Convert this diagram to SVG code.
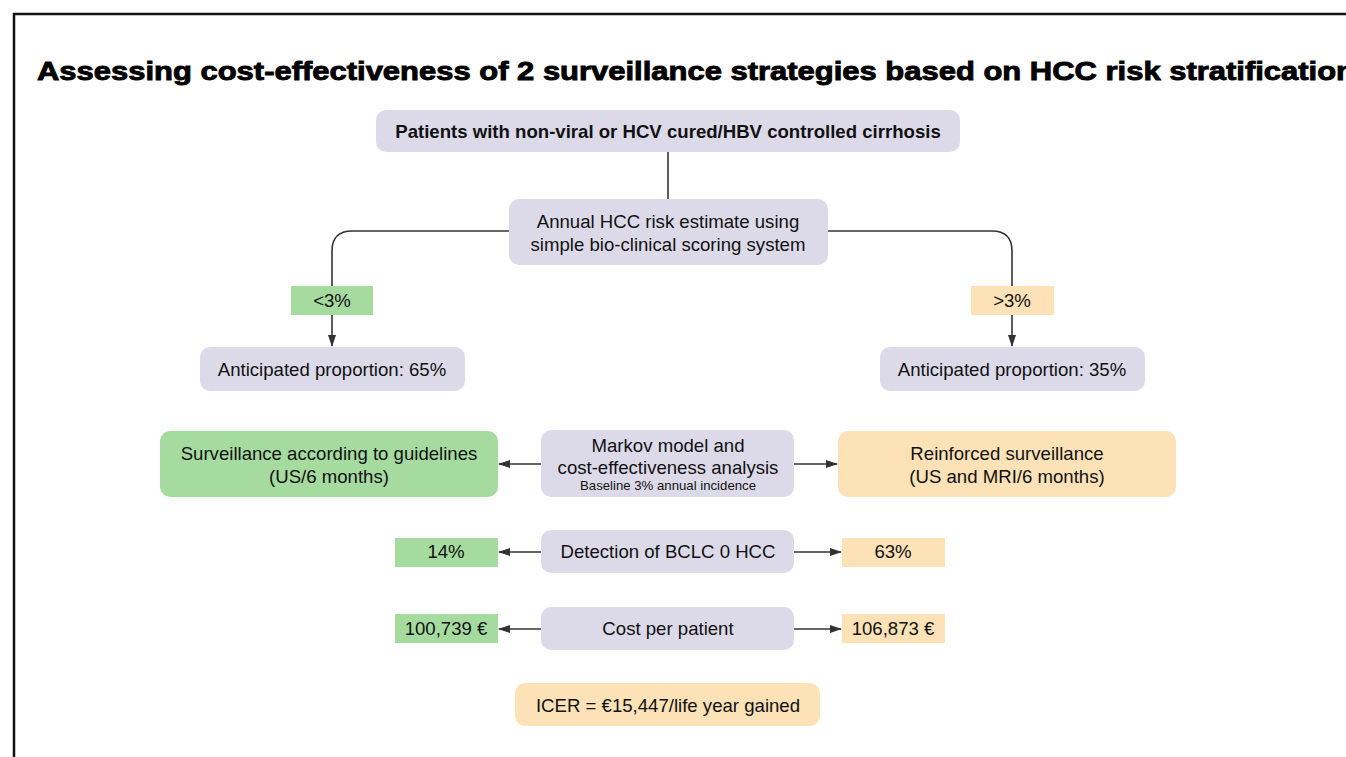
<svg xmlns="http://www.w3.org/2000/svg" width="1346" height="757" viewBox="0 0 1346 757">
<style>
.t{font-family:"Liberation Sans",Arial,sans-serif;font-size:18.6px;fill:#111;text-anchor:middle}
.b{font-weight:bold}
.s{font-size:13.2px}
.lav{fill:#dcdae9}
.grn{fill:#a6dba0}
.org{fill:#fde1b7}
.c{fill:none;stroke:#333;stroke-width:1.6}
</style>
<defs>
<marker id="ah" markerWidth="12" markerHeight="8" refX="11" refY="4" orient="auto" markerUnits="userSpaceOnUse">
<path d="M0,0 L12,4 L0,8 Z" fill="#333"/>
</marker>
</defs>
<rect width="1346" height="757" fill="#fff"/>
<path d="M14,757 V14 H1346" fill="none" stroke="#111" stroke-width="2.5"/>
<text x="37" y="80" font-family="Liberation Sans,Arial,sans-serif" font-weight="bold" font-size="26" fill="#000" stroke="#000" stroke-width="0.9" textLength="1318" lengthAdjust="spacingAndGlyphs">Assessing cost-effectiveness of 2 surveillance strategies based on HCC risk stratification</text>
<g id="connectors">
<path class="c" d="M668,152 V199"/>
<path class="c" d="M509,231 H352 Q332,231 332,251 V346" marker-end="url(#ah)"/>
<path class="c" d="M828,231 H992 Q1012,231 1012,251 V346" marker-end="url(#ah)"/>
<path class="c" d="M541,464 H499" marker-end="url(#ah)"/>
<path class="c" d="M794,464 H837" marker-end="url(#ah)"/>
<path class="c" d="M541,552 H499" marker-end="url(#ah)"/>
<path class="c" d="M794,552 H841" marker-end="url(#ah)"/>
<path class="c" d="M541,629 H499" marker-end="url(#ah)"/>
<path class="c" d="M794,629 H841" marker-end="url(#ah)"/>
</g>
<g id="patients"><rect class="lav" x="376" y="110" width="584" height="42" rx="10"/><text class="t b" x="668" y="138">Patients with non-viral or HCV cured/HBV controlled cirrhosis</text></g>
<g id="risk"><rect class="lav" x="509" y="199" width="319" height="66" rx="10"/><text class="t" x="668" y="228">Annual HCC risk estimate using</text><text class="t" x="668" y="251">simple bio-clinical scoring system</text></g>
<g id="lt3"><rect class="grn" x="291" y="286" width="82" height="29"/><text class="t" x="332" y="307">&lt;3%</text></g>
<g id="gt3"><rect class="org" x="971" y="286" width="83" height="29"/><text class="t" x="1012" y="307">&gt;3%</text></g>
<g id="prop65"><rect class="lav" x="200" y="347" width="265" height="44" rx="10"/><text class="t" x="332" y="376">Anticipated proportion: 65%</text></g>
<g id="prop35"><rect class="lav" x="880" y="347" width="265" height="44" rx="10"/><text class="t" x="1012" y="376">Anticipated proportion: 35%</text></g>
<g id="guidelines"><rect class="grn" x="160" y="431" width="338" height="66" rx="10"/><text class="t" x="329" y="460">Surveillance according to guidelines</text><text class="t" x="329" y="483">(US/6 months)</text></g>
<g id="markov"><rect class="lav" x="541" y="430" width="253" height="67" rx="10"/><text class="t" x="668" y="452">Markov model and</text><text class="t" x="668" y="474">cost-effectiveness analysis</text><text class="t s" x="668" y="490">Baseline 3% annual incidence</text></g>
<g id="reinforced"><rect class="org" x="838" y="431" width="338" height="66" rx="10"/><text class="t" x="1007" y="460">Reinforced surveillance</text><text class="t" x="1007" y="483">(US and MRI/6 months)</text></g>
<g id="detection"><rect class="lav" x="541" y="530" width="253" height="43" rx="10"/><text class="t" x="668" y="558">Detection of BCLC 0 HCC</text></g>
<g id="det14"><rect class="grn" x="395" y="538" width="103" height="29"/><text class="t" x="446" y="558">14%</text></g>
<g id="det63"><rect class="org" x="842" y="538" width="103" height="29"/><text class="t" x="893" y="558">63%</text></g>
<g id="cost"><rect class="lav" x="541" y="607" width="253" height="43" rx="10"/><text class="t" x="668" y="635">Cost per patient</text></g>
<g id="cost1"><rect class="grn" x="395" y="614" width="103" height="29"/><text class="t" x="446" y="635">100,739 €</text></g>
<g id="cost2"><rect class="org" x="842" y="614" width="103" height="29"/><text class="t" x="893" y="635">106,873 €</text></g>
<g id="icer"><rect class="org" x="515" y="683" width="305" height="43" rx="10"/><text class="t" x="668" y="712">ICER = €15,447/life year gained</text></g>
</svg>
